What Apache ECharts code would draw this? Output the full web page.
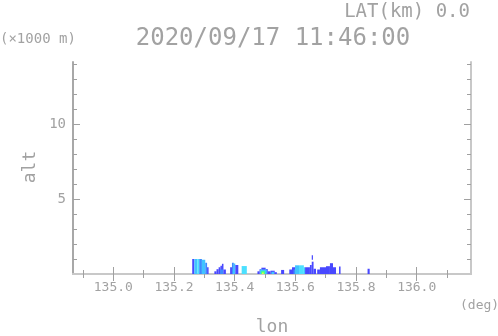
<!DOCTYPE html>
<html>
<head>
<meta charset="utf-8">
<script src="https://cdn.jsdelivr.net/npm/echarts@6/dist/echarts.min.js"></script>
<style>
  html, body { margin: 0; padding: 0; background: #fff; }
  #chart { width: 498px; height: 336px; }
</style>
</head>
<body>
<div id="chart"></div>
<script>
// echo cells of the cross section: lon range, altitude range (x1000 m), colour level
const cellLon0 = [
  135.260, 135.267, 135.277, 135.283, 135.292, 135.303, 135.309,
  135.333, 135.340, 135.347, 135.353, 135.358, 135.363, 135.352,
  135.385, 135.391, 135.397, 135.402, 135.394,
  135.423,
  135.475, 135.482, 135.488, 135.502, 135.509, 135.518, 135.532, 135.483, 135.521, 135.487, 135.490,
  135.553,
  135.580, 135.589, 135.594, 135.599, 135.612, 135.628, 135.632, 135.648, 135.654, 135.660, 135.654,
  135.672, 135.681, 135.701, 135.714, 135.724,
  135.744, 135.838
];
const cellLon1 = [
  135.267, 135.277, 135.283, 135.292, 135.303, 135.309, 135.314,
  135.340, 135.347, 135.353, 135.358, 135.363, 135.371, 135.362,
  135.391, 135.397, 135.402, 135.412, 135.400,
  135.440,
  135.482, 135.488, 135.502, 135.509, 135.518, 135.532, 135.539, 135.506, 135.530, 135.500, 135.496,
  135.563,
  135.589, 135.599, 135.599, 135.612, 135.628, 135.632, 135.648, 135.654, 135.660, 135.668, 135.658,
  135.681, 135.701, 135.714, 135.724, 135.734,
  135.749, 135.845
];
const cellBase = [
  0, 0, 0, 0, 0, 0, 0,
  0, 0, 0, 0, 0, 0, 0,
  0, 0, 0, 0, 0,
  0,
  0, 0, 0, 0, 0, 0, 0, 0, 0, 0, 0,
  0,
  0, 0, 0, 0, 0, 0, 0, 0, 0, 0, 0.95,
  0, 0, 0, 0, 0,
  0, 0
];
const cellTop = [
  1.0, 1.0, 1.0, 1.0, 0.95, 0.75, 0.45,
  0.18, 0.32, 0.45, 0.55, 0.68, 0.3, 0.3,
  0.45, 0.75, 0.7, 0.6, 0.3,
  0.53,
  0.18, 0.32, 0.42, 0.33, 0.18, 0.22, 0.12, 0.3, 0.15, 0.2, 0.1,
  0.27,
  0.3, 0.45, 0.3, 0.58, 0.58, 0.45, 0.45, 0.6, 0.82, 0.35, 1.25,
  0.3, 0.45, 0.52, 0.72, 0.45,
  0.5, 0.35
];
const cellLevel = [
  0, 2, 3, 1, 2, 1, 0,
  0, 0, 0, 0, 0, 0, 1,
  0, 1, 2, 0, 2,
  3,
  0, 0, 0, 0, 0, 0, 0, 2, 2, 4, 5,
  0,
  0, 0, 1, 2, 3, 2, 0, 0, 0, 0, 0,
  0, 0, 0, 0, 0,
  0, 0
];
const levelColors = ['#4848ff', '#3c8cff', '#40c4ff', '#4ce0ff', '#40ff90', '#d8ff40'];

const xMajorTicks = [135.0, 135.2, 135.4, 135.6, 135.8, 136.0];
const xMinorTicks = [134.9, 135.1, 135.3, 135.5, 135.7, 135.9, 136.1];
const yMajorTicks = [5, 10];
const yMinorTicks = [1, 2, 3, 4, 6, 7, 8, 9, 11, 12, 13, 14];

const lonMin = 134.867, lonMax = 136.179;
const altMin = 0, altMax = 14.13;

const cells = cellLon0.map((v, i) => [v, cellLon1[i], cellBase[i], cellTop[i], cellLevel[i]]);

const chart = echarts.init(document.getElementById('chart'));
const font = 'DejaVu Sans Mono';
const txt = '#a2a2a2';
const frame = '#c8c8c8';
const tickColor = '#a0a0a0';

function xAxisDef(pos, ticks, len, showLine, showLabel) {
  return {
    type: 'value', min: lonMin, max: lonMax, position: pos,
    axisLine: { show: showLine, lineStyle: { color: frame, width: 2 } },
    axisTick: { show: true, inside: true, length: len, customValues: ticks, lineStyle: { color: tickColor } },
    axisLabel: {
      show: showLabel, customValues: ticks, margin: 7,
      color: txt, fontFamily: font, fontSize: 13,
      formatter: v => v.toFixed(1)
    },
    splitLine: { show: false }
  };
}
function yAxisDef(pos, ticks, len, showLine, showLabel, lineColor) {
  return {
    type: 'value', min: altMin, max: altMax, position: pos,
    axisLine: { show: showLine, lineStyle: { color: lineColor, width: 2 } },
    axisTick: { show: true, inside: true, length: len, customValues: ticks, lineStyle: { color: tickColor } },
    axisLabel: {
      show: showLabel, customValues: ticks, margin: 7,
      color: txt, fontFamily: font, fontSize: 14
    },
    splitLine: { show: false }
  };
}

const option = {
  animation: false,
  grid: { left: 73, right: 27, top: 62, bottom: 62 },
  xAxis: [
    xAxisDef('bottom', xMajorTicks, 7, true, true),
    xAxisDef('bottom', xMinorTicks, 4, false, false),
    xAxisDef('top', xMajorTicks, 7, true, false),
    xAxisDef('top', xMinorTicks, 4, false, false)
  ],
  yAxis: [
    yAxisDef('left', yMajorTicks, 7, true, true, '#a8a8a8'),
    yAxisDef('left', yMinorTicks, 4, false, false, '#a8a8a8'),
    yAxisDef('right', yMajorTicks, 7, true, false, frame),
    yAxisDef('right', yMinorTicks, 4, false, false, frame)
  ],
  graphic: [
    { type: 'text', x: 470, y: 12, style: { text: 'LAT(km) 0.0', fill: txt, font: '19px ' + font, align: 'right', verticalAlign: 'middle' } },
    { type: 'text', x: 273, y: 39, style: { text: '2020/09/17 11:46:00', fill: txt, font: '24px ' + font, align: 'center', verticalAlign: 'middle' } },
    { type: 'text', x: 0, y: 39, style: { text: '(×1000 m)', fill: txt, font: '14px ' + font, verticalAlign: 'middle' } },
    { type: 'text', x: 272, y: 327, style: { text: 'lon', fill: txt, font: '18px ' + font, align: 'center', verticalAlign: 'middle' } },
    { type: 'text', x: 460, y: 306, style: { text: '(deg)', fill: txt, font: '13px ' + font, verticalAlign: 'middle' } },
    { type: 'text', x: 30, y: 167, rotation: Math.PI / 2, style: { text: 'alt', fill: txt, font: '18px ' + font, align: 'center', verticalAlign: 'middle' } }
  ],
  series: [{
    type: 'custom',
    xAxisIndex: 0,
    yAxisIndex: 0,
    data: cells,
    encode: { x: [0, 1], y: [2, 3] },
    renderItem: (params, api) => {
      const p0 = api.coord([api.value(0), api.value(2)]);
      const p1 = api.coord([api.value(1), api.value(3)]);
      return {
        type: 'rect',
        shape: { x: p0[0], y: p1[1], width: p1[0] - p0[0], height: p0[1] - p1[1] },
        style: { fill: levelColors[api.value(4)] }
      };
    }
  }]
};
chart.setOption(option);
</script>
</body>
</html>
